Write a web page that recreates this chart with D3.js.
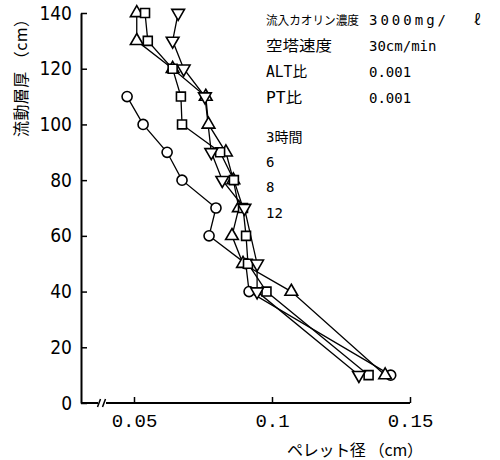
<!DOCTYPE html>
<html>
<head>
<meta charset="utf-8">
<script src="https://cdn.jsdelivr.net/npm/d3@7"></script>
<style>
  body { margin: 0; background: #fff; }
  svg { display: block; }
</style>
</head>
<body>
<div id="chart"></div>
<script>
// pellet diameter (cm) vs fluidized bed height (cm)
var heights3  = [110, 100, 90, 80, 70, 60, 50, 40, 10];
var pellet3   = [0.0475, 0.0533, 0.062, 0.0674, 0.0797, 0.0772, 0.0905, 0.0917, 0.143];

var heights6  = [140, 130, 120, 110, 100, 90, 80, 70, 60, 50, 40, 10];
var pellet6   = [0.051, 0.051, 0.064, 0.076, 0.077, 0.0833, 0.086, 0.088, 0.0855, 0.0895, 0.107, 0.141];

var heights8  = [140, 130, 120, 110, 100, 90, 80, 70, 60, 50, 40, 10];
var pellet8   = [0.054, 0.055, 0.064, 0.067, 0.0674, 0.0812, 0.0862, 0.0895, 0.0906, 0.0913, 0.098, 0.135];

var heights12 = [140, 130, 120, 110, 90, 80, 70, 50, 40, 10];
var pellet12  = [0.066, 0.064, 0.068, 0.0757, 0.078, 0.082, 0.090, 0.0946, 0.0946, 0.1315];

var yTicks = [0, 20, 40, 60, 80, 100, 120, 140];
var xTicks = [0.05, 0.1, 0.15];

var condLabels = ["流入カオリン濃度", "空塔速度", "ALT比", "PT比"];
var condValues = ["3000mg/", "30cm/min", "0.001", "0.001"];
var timeLabels = ["3時間", "6", "8", "12"];

var width = 500, height = 460;

var svg = d3.select("#chart")
  .append("svg")
    .attr("width", width)
    .attr("height", height);

var x = d3.scaleLinear()
  .domain([0.0308, 0.15])
  .range([81, 410]);

var y = d3.scaleLinear()
  .domain([0, 140])
  .range([403, 13]);

// y axis
var yAxis = svg.append("g")
  .attr("transform", "translate(" + x.range()[0] + ",0)")
  .call(d3.axisLeft(y).tickValues(yTicks).tickSizeInner(-6).tickSizeOuter(0).tickPadding(9));
yAxis.select(".domain").attr("stroke-width", 2);
yAxis.selectAll(".tick line").attr("stroke-width", 1.5);
yAxis.selectAll("text")
  .style("font-family", "'DejaVu Sans Condensed', 'DejaVu Sans'")
  .style("font-stretch", "condensed")
  .style("font-size", "19px")
  .attr("fill", "#000");

// x axis (with break marks near the origin)
var xAxis = svg.append("g")
  .attr("transform", "translate(0," + y(0) + ")")
  .call(d3.axisBottom(x).tickValues(xTicks).tickSizeInner(-6).tickSizeOuter(0).tickPadding(11)
        .tickFormat(function(d) { return String(d); }));
xAxis.select(".domain").remove();
xAxis.selectAll(".tick line").attr("stroke-width", 1.5);
xAxis.selectAll("text")
  .style("font-family", "'Liberation Mono', 'DejaVu Sans Mono'")
  .style("font-size", "19px")
  .attr("fill", "#000");

var x0 = x.range()[0], x1 = x.range()[1], y0 = y(0);
svg.append("line")
  .attr("x1", x0).attr("x2", 98).attr("y1", y0).attr("y2", y0)
  .attr("stroke", "#000").attr("stroke-width", 2);
svg.append("line")
  .attr("x1", 106).attr("x2", x1).attr("y1", y0).attr("y2", y0)
  .attr("stroke", "#000").attr("stroke-width", 2);
[99, 104].forEach(function(bx) {
  svg.append("line")
    .attr("x1", bx - 1.5).attr("x2", bx + 1.5)
    .attr("y1", y0 + 4).attr("y2", y0 - 4)
    .attr("stroke", "#000").attr("stroke-width", 1.5);
});

// axis titles
svg.append("text")
  .attr("transform", "translate(27,137) rotate(-90)")
  .style("font-family", "'Noto Sans CJK JP'")
  .style("font-size", "16px")
  .attr("fill", "#000")
  .attr("textLength", 126)
  .text("流動層厚 （cm）");

svg.append("text")
  .attr("x", 287)
  .attr("y", 456)
  .style("font-family", "'Noto Sans CJK JP'")
  .style("font-size", "16px")
  .attr("fill", "#000")
  .attr("textLength", 136)
  .text("ペレット径 （cm）");

// series
var series = [
  { h: heights3,  p: pellet3,  shape: d3.symbolCircle,   size: 80 },
  { h: heights6,  p: pellet6,  shape: d3.symbolTriangle, size: 70 },
  { h: heights8,  p: pellet8,  shape: d3.symbolSquare,   size: 80 },
  { h: heights12, p: pellet12, shape: d3.symbolTriangle, size: 70, flip: true }
];

var line = d3.line()
  .x(function(d) { return x(d.p); })
  .y(function(d) { return y(d.h); });

series.forEach(function(s) {
  var pts = s.h.map(function(h, i) { return { h: h, p: s.p[i] }; });
  svg.append("path")
    .datum(pts)
    .attr("d", line)
    .attr("fill", "none")
    .attr("stroke", "#000")
    .attr("stroke-width", 1.3);
});

series.forEach(function(s) {
  var pts = s.h.map(function(h, i) { return { h: h, p: s.p[i] }; });
  svg.append("g")
    .selectAll("path")
    .data(pts)
    .enter()
    .append("path")
      .attr("d", d3.symbol().type(s.shape).size(s.size))
      .attr("transform", function(d) {
        return "translate(" + x(d.p) + "," + y(d.h) + ")" + (s.flip ? " rotate(180)" : "");
      })
      .attr("fill", "#fff")
      .attr("stroke", "#000")
      .attr("stroke-width", 1.6);
});

// condition notes
var notes = svg.append("g")
  .style("font-family", "'DejaVu Sans Mono', 'Noto Sans CJK JP'")
  .style("font-size", "14px")
  .attr("fill", "#000");

var condY = [25, 51, 77, 103];
var labelSize = [12, 15, 15, 15];
var labelLen = [93, 66, 41, 36];
condLabels.forEach(function(t, i) {
  notes.append("text").attr("x", 266).attr("y", condY[i])
    .attr("textLength", labelLen[i])
    .attr("lengthAdjust", "spacingAndGlyphs")
    .style("font-size", labelSize[i] + "px")
    .text(t);
  var v = notes.append("text").attr("x", 369).attr("y", condY[i]).text(condValues[i]);
  if (i == 0) v.style("letter-spacing", "3px");
});
// litre sign after the concentration value
notes.append("text").attr("x", 474).attr("y", condY[0]).text("ℓ");

var timeY = [142, 167, 192, 218];
timeLabels.forEach(function(t, i) {
  notes.append("text").attr("x", 266).attr("y", timeY[i]).text(t);
});
</script>
</body>
</html>
